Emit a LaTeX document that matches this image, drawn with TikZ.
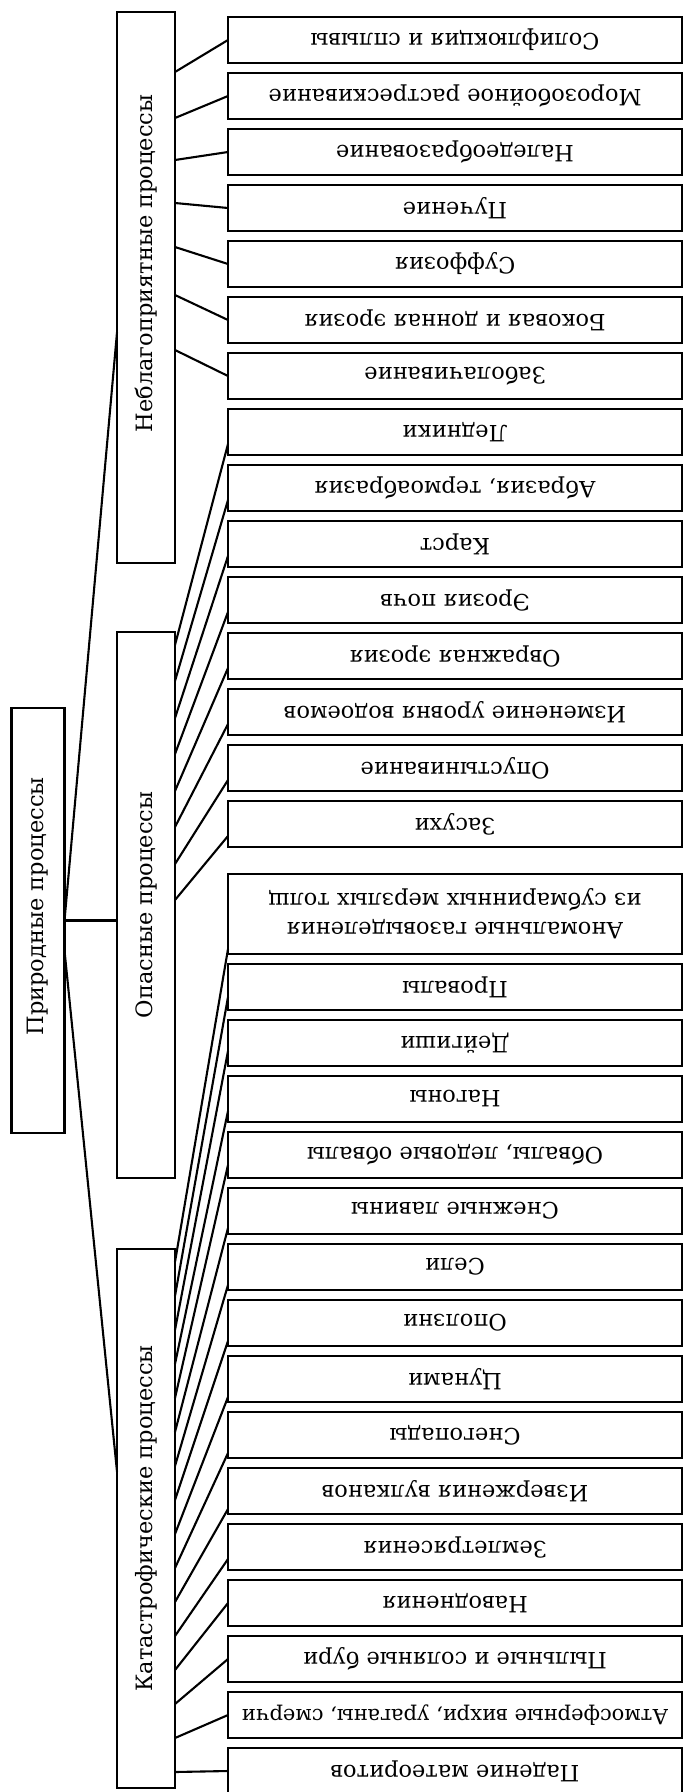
\documentclass[tikz,border=0pt]{standalone}
\usepackage{graphicx,color}
\usepackage{fontspec}
\setmainfont{DejaVu Serif}
\usepackage{tikz}
\usetikzlibrary{positioning}

\newcommand{\upside}[1]{\rotatebox{180}{#1}}
\newcommand{\uptext}[1]{\rotatebox{90}{#1}}

\begin{document}
\begin{tikzpicture}[
  x=1pt, y=-1pt,
  node distance=10pt,
  every node/.style={draw, line width=2.4pt, outer sep=0pt, inner sep=0pt, align=center, font=\fontsize{22.5}{29}\selectfont},
  leaf/.style={minimum width=454pt, minimum height=46pt},
  group/.style={minimum width=58pt},
  link/.style={line width=2.1pt}
]
\useasboundingbox (0,0) rectangle (684,1792);

% Nodes
\node[minimum width=53pt, minimum height=425pt] (root) at (38,920.5) {\uptext{\hspace*{28pt}Природные процессы}};
\node[group, minimum height=551pt] (unfav) at (146,287.5) {\uptext{\hspace*{48pt}Неблагоприятные процессы}};
\node[group, minimum height=546pt] (danger) at (146,905) {\uptext{Опасные процессы}};
\node[group, minimum height=539pt] (catastr) at (146,1518.5) {\uptext{Катастрофические процессы}};

\node[leaf] (solif) at (455,40) {\upside{Солифлюкция и сплывы}};
\node[leaf, below=of solif] (frost) {\upside{Морозобойное растрескивание}};
\node[leaf, below=of frost] (icing) {\upside{Наледеобразование}};
\node[leaf, below=of icing] (heave) {\upside{Пучение}};
\node[leaf, below=of heave] (suff) {\upside{Суффозия}};
\node[leaf, below=of suff] (bank) {\upside{Боковая и донная эрозия}};
\node[leaf, below=of bank] (swamp) {\upside{Заболачивание}};
\node[leaf, below=of swamp] (glac) {\upside{Ледники}};
\node[leaf, below=of glac] (abras) {\upside{Абразия, термоабразия}};
\node[leaf, below=of abras] (karst) {\upside{Карст}};
\node[leaf, below=of karst] (soil) {\upside{Эрозия почв}};
\node[leaf, below=of soil] (gully) {\upside{Овражная эрозия}};
\node[leaf, below=of gully] (level) {\upside{Изменение уровня водоемов}};
\node[leaf, below=of level] (desert) {\upside{Опустынивание}};
\node[leaf, below=of desert] (drought) {\upside{Засухи}};
\node[leaf, minimum height=80pt, below=27pt of drought] (gas) {\upside{\begin{tabular}{@{}c@{}}Аномальные газовыделения\\из субмаринных мерзлых толщ\end{tabular}}};
\node[leaf, below=of gas] (sinks) {\upside{Провалы}};
\node[leaf, below=of sinks] (deig) {\upside{Дейгиши}};
\node[leaf, below=of deig] (surge) {\upside{Нагоны}};
\node[leaf, below=of surge] (rockfall) {\upside{Обвалы, ледовые обвалы}};
\node[leaf, below=of rockfall] (aval) {\upside{Снежные лавины}};
\node[leaf, below=of aval] (mudflow) {\upside{Сели}};
\node[leaf, below=of mudflow] (slide) {\upside{Оползни}};
\node[leaf, below=of slide] (tsunami) {\upside{Цунами}};
\node[leaf, below=of tsunami] (snowfall) {\upside{Снегопады}};
\node[leaf, below=of snowfall] (volcano) {\upside{Извержения вулканов}};
\node[leaf, below=of volcano] (quake) {\upside{Землетрясения}};
\node[leaf, below=of quake] (flood) {\upside{Наводнения}};
\node[leaf, below=of flood] (dust) {\upside{Пыльные и соляные бури}};
\node[leaf, below=of dust, font=\fontsize{21}{28}\selectfont] (storm) {\upside{Атмосферные вихри, ураганы, смерчи}};
\node[leaf, below=of storm] (meteor) {\upside{Падение матеоритов}};

% Links from the root
\draw[link] (root.east) -- ([yshift=-45pt]unfav.west);
\draw[link] (root.east) -- (root.east -| danger.west);
\draw[link] ([yshift=-30pt]root.east) -- ([yshift=47pt]catastr.west);

% Links of the unfavourable group
\draw[link] ([yshift=-60pt]unfav.north east) -- (solif.west);
\draw[link] ([yshift=-106pt]unfav.north east) -- (frost.west);
\draw[link] ([yshift=-148pt]unfav.north east) -- (icing.west);
\draw[link] ([yshift=-191pt]unfav.north east) -- (heave.west);
\draw[link] ([yshift=-235pt]unfav.north east) -- (suff.west);
\draw[link] ([yshift=-283pt]unfav.north east) -- (bank.west);
\draw[link] ([yshift=-338pt]unfav.north east) -- (swamp.west);

% Links of the dangerous group
\draw[link] ([yshift=-13pt]danger.north east) -- ([yshift=-12pt]glac.west);
\draw[link] ([yshift=-49pt]danger.north east) -- ([yshift=-12pt]abras.west);
\draw[link] ([yshift=-86pt]danger.north east) -- ([yshift=-12pt]karst.west);
\draw[link] ([yshift=-122pt]danger.north east) -- ([yshift=-12pt]soil.west);
\draw[link] ([yshift=-159pt]danger.north east) -- ([yshift=-12pt]gully.west);
\draw[link] ([yshift=-195pt]danger.north east) -- ([yshift=-12pt]level.west);
\draw[link] ([yshift=-232pt]danger.north east) -- ([yshift=-12pt]desert.west);
\draw[link] ([yshift=-268pt]danger.north east) -- ([yshift=-12pt]drought.west);

% Links of the catastrophic group
\draw[link] ([yshift=-13pt]catastr.north east) -- ([yshift=5pt]gas.south west);
\draw[link] ([yshift=-47pt]catastr.north east) -- ([yshift=-10pt]sinks.west);
\draw[link] ([yshift=-81pt]catastr.north east) -- ([yshift=-8pt]deig.west);
\draw[link] ([yshift=-115pt]catastr.north east) -- ([yshift=-12pt]surge.west);
\draw[link] ([yshift=-149pt]catastr.north east) -- ([yshift=-10pt]rockfall.west);
\draw[link] ([yshift=-183pt]catastr.north east) -- ([yshift=-17pt]aval.west);
\draw[link] ([yshift=-217pt]catastr.north east) -- ([yshift=-18pt]mudflow.west);
\draw[link] ([yshift=-251pt]catastr.north east) -- ([yshift=-18pt]slide.west);
\draw[link] ([yshift=-285pt]catastr.north east) -- ([yshift=-18pt]tsunami.west);
\draw[link] ([yshift=-319pt]catastr.north east) -- ([yshift=-18pt]snowfall.west);
\draw[link] ([yshift=-353pt]catastr.north east) -- ([yshift=-18pt]volcano.west);
\draw[link] ([yshift=-387pt]catastr.north east) -- ([yshift=-12pt]quake.west);
\draw[link] ([yshift=-421pt]catastr.north east) -- (flood.west);
\draw[link] ([yshift=-455pt]catastr.north east) -- (dust.west);
\draw[link] ([yshift=-489pt]catastr.north east) -- (storm.west);
\draw[link] ([yshift=-523pt]catastr.north east) -- (meteor.west);

\end{tikzpicture}
\end{document}
